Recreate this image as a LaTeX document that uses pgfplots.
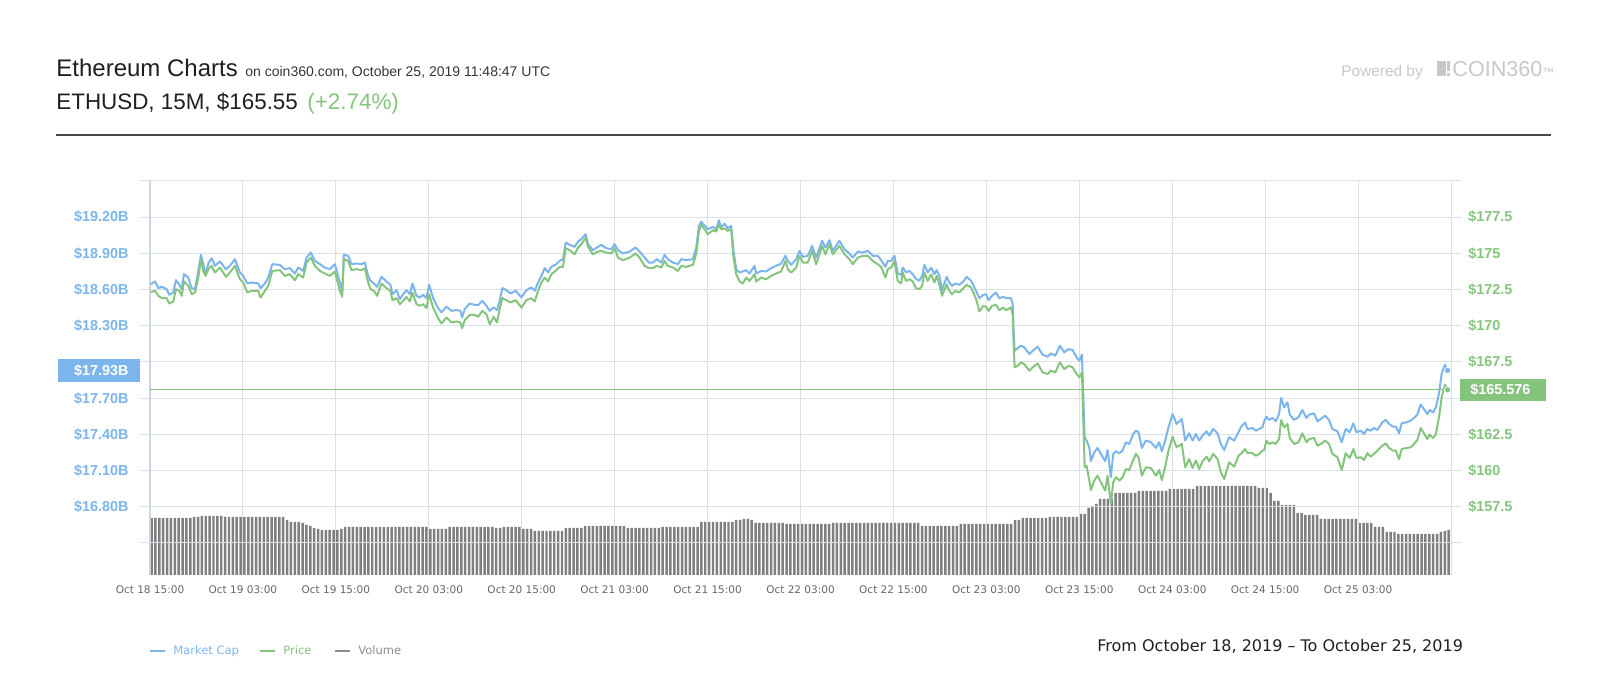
\documentclass[border=0pt]{standalone}
\usepackage{fontspec}
\setmainfont{Liberation Sans}
\newfontfamily\dejavu{DejaVu Sans}
\usepackage{pgfplots}
\usepackage{pgfplotstable}
\pgfplotsset{compat=1.18}
\definecolor{mcblue}{HTML}{7CB5EC}
\definecolor{pgreen}{HTML}{84C47C}
\definecolor{gridc}{HTML}{D8E0E8}
\definecolor{axisc}{HTML}{CCD6E2}
\definecolor{volgray}{HTML}{7F7F7F}
\definecolor{labgray}{HTML}{666666}
\definecolor{titlec}{HTML}{1F1F1F}
\definecolor{rulec}{HTML}{4A4A4A}
\definecolor{poweredc}{HTML}{C8C8C8}

\pgfplotstableread{
h v
0.09 18.645
0.65 18.667
1.08 18.612
1.51 18.623
2.15 18.604
2.49 18.557
3.01 18.576
3.35 18.678
3.79 18.640
4.09 18.604
4.39 18.728
4.95 18.700
5.38 18.612
5.81 18.604
6.24 18.755
6.58 18.888
6.88 18.811
7.18 18.728
7.53 18.816
7.96 18.860
8.39 18.797
9.03 18.833
9.81 18.769
10.32 18.797
10.97 18.852
11.61 18.742
12.04 18.714
12.56 18.651
13.12 18.659
13.98 18.651
14.28 18.612
14.84 18.651
15.27 18.700
15.79 18.811
16.77 18.805
17.42 18.769
18.06 18.778
18.71 18.733
19.14 18.783
19.78 18.755
20.22 18.866
20.77 18.907
21.29 18.838
21.94 18.811
22.58 18.783
23.23 18.769
23.87 18.811
24.52 18.659
24.82 18.590
25.03 18.888
25.59 18.880
26.02 18.811
26.67 18.816
27.31 18.811
27.74 18.824
28.17 18.714
28.47 18.673
28.90 18.651
29.33 18.623
29.89 18.706
30.54 18.667
31.05 18.640
31.31 18.562
31.83 18.595
32.26 18.521
32.69 18.562
33.12 18.595
33.55 18.562
33.89 18.651
34.41 18.549
34.84 18.535
35.27 18.557
35.70 18.529
36.04 18.640
36.56 18.529
37.20 18.447
37.63 18.411
38.28 18.458
38.92 18.424
39.57 18.430
40.09 18.424
40.30 18.369
40.64 18.438
41.29 18.485
41.93 18.474
42.36 18.471
42.92 18.507
43.44 18.466
43.87 18.424
44.38 18.452
44.81 18.430
45.16 18.507
45.50 18.612
46.02 18.595
46.54 18.568
47.22 18.590
47.96 18.535
48.60 18.595
49.25 18.618
49.68 18.590
50.11 18.659
50.54 18.714
50.97 18.778
51.40 18.742
51.83 18.789
52.47 18.811
52.90 18.838
53.33 18.852
53.68 18.990
54.19 18.971
54.84 18.954
55.27 18.998
55.70 19.018
56.26 19.059
56.56 18.976
57.20 18.927
57.85 18.954
58.28 18.971
58.92 18.943
59.57 18.935
60.00 18.976
60.43 18.927
61.07 18.899
61.93 18.915
62.71 18.949
63.22 18.915
63.87 18.866
64.43 18.824
64.94 18.824
65.46 18.852
66.02 18.824
66.45 18.888
66.88 18.852
67.53 18.824
68.17 18.811
68.60 18.852
69.25 18.844
70.11 18.852
70.54 18.949
70.88 19.128
71.18 19.164
71.61 19.128
72.04 19.100
72.69 19.120
73.12 19.100
73.46 19.175
73.76 19.114
74.19 19.147
74.62 19.109
75.05 19.128
75.35 18.921
75.70 18.769
76.13 18.742
76.56 18.750
76.99 18.761
77.42 18.733
78.06 18.797
78.28 18.733
78.92 18.755
79.57 18.750
80.21 18.778
80.86 18.797
81.50 18.816
82.06 18.880
82.36 18.838
82.79 18.805
83.44 18.852
83.87 18.921
84.30 18.871
84.94 18.880
85.50 18.962
86.02 18.866
86.79 19.004
87.22 18.949
87.74 19.009
88.17 18.921
89.03 19.004
89.68 18.935
90.32 18.899
90.75 18.866
91.40 18.915
92.04 18.907
92.69 18.921
93.33 18.880
93.98 18.880
94.41 18.844
94.97 18.789
95.27 18.838
95.70 18.838
96.13 18.880
96.56 18.733
96.99 18.722
97.20 18.783
97.63 18.742
98.06 18.755
98.49 18.728
98.92 18.687
99.35 18.673
99.70 18.714
100.00 18.805
100.43 18.742
100.86 18.783
101.29 18.728
101.59 18.761
101.93 18.714
102.28 18.595
102.58 18.651
102.88 18.706
103.22 18.659
103.57 18.631
104.00 18.651
104.51 18.640
105.03 18.667
105.46 18.706
106.02 18.673
106.45 18.618
106.75 18.576
107.09 18.529
107.61 18.557
107.95 18.562
108.30 18.513
108.73 18.549
109.24 18.576
109.67 18.529
110.19 18.540
110.53 18.529
111.18 18.529
111.40 18.480
111.52 18.259
111.65 18.093
112.04 18.115
112.47 18.135
112.90 18.121
113.55 18.066
113.98 18.093
114.62 18.127
115.27 18.060
115.91 18.044
116.34 18.071
116.90 18.052
117.50 18.135
118.06 18.080
118.62 18.107
119.14 18.099
119.65 18.038
120.00 18.011
120.34 18.060
120.51 17.735
120.69 17.376
120.94 17.349
121.29 17.293
121.50 17.178
121.93 17.252
122.36 17.288
122.79 17.238
123.35 17.178
123.65 17.271
124.08 17.045
124.38 17.238
124.73 17.260
125.16 17.244
125.59 17.266
126.02 17.335
126.45 17.321
126.96 17.404
127.31 17.431
127.65 17.418
128.08 17.288
128.60 17.349
129.24 17.335
129.89 17.288
130.32 17.335
130.66 17.260
131.09 17.349
131.52 17.459
132.04 17.569
132.56 17.487
133.24 17.528
133.67 17.349
134.19 17.409
134.62 17.349
135.05 17.404
135.48 17.349
135.91 17.390
136.43 17.426
136.77 17.390
137.29 17.445
137.85 17.409
138.28 17.321
138.71 17.271
139.35 17.376
140.00 17.349
140.56 17.418
140.86 17.459
141.41 17.500
141.72 17.445
142.36 17.453
142.79 17.431
143.22 17.445
143.65 17.459
143.87 17.509
144.17 17.547
144.51 17.520
144.94 17.536
145.37 17.509
145.80 17.569
146.06 17.702
146.45 17.624
146.88 17.666
147.18 17.564
147.74 17.520
148.30 17.542
148.81 17.602
149.33 17.536
149.67 17.564
150.32 17.575
150.75 17.509
151.18 17.528
151.74 17.555
152.25 17.520
152.68 17.445
153.33 17.426
153.89 17.335
154.40 17.445
154.92 17.418
155.39 17.492
155.78 17.418
156.34 17.431
156.77 17.404
157.20 17.445
157.63 17.431
158.06 17.453
158.49 17.437
159.13 17.500
159.57 17.520
160.00 17.487
160.51 17.464
160.86 17.464
161.29 17.409
161.63 17.492
162.23 17.500
162.79 17.514
163.22 17.536
163.65 17.564
164.08 17.647
164.51 17.611
164.94 17.569
165.24 17.602
165.67 17.583
166.02 17.619
166.45 17.740
166.79 17.900
167.22 17.978
167.56 17.930
}\mcaptable

\pgfplotstableread{
h p
0.09 172.34
0.65 172.41
1.08 172.07
1.51 171.91
2.15 171.91
2.49 171.54
3.01 171.68
3.35 172.53
3.79 172.41
4.09 172.07
4.39 173.06
4.95 172.76
5.38 172.18
5.81 172.30
6.24 173.33
6.58 174.60
6.88 173.79
7.18 173.45
7.53 173.91
7.96 174.14
8.39 173.68
9.03 174.02
9.81 173.38
10.32 173.68
10.97 174.14
11.61 173.22
12.04 172.99
12.56 172.30
13.12 172.41
13.98 172.41
14.28 171.95
14.84 172.41
15.27 172.76
15.79 173.79
16.77 173.84
17.42 173.45
18.06 173.56
18.71 173.15
19.14 173.56
19.78 173.33
20.22 174.37
20.77 174.71
21.29 174.14
21.94 173.79
22.58 173.61
23.23 173.45
23.87 173.75
24.52 172.41
24.82 172.00
25.03 174.60
25.59 174.48
26.02 173.84
26.67 173.91
27.31 173.84
27.74 173.98
28.17 172.99
28.47 172.53
28.90 172.41
29.33 172.07
29.89 172.92
30.54 172.60
31.05 172.41
31.31 171.77
31.83 171.91
32.26 171.49
32.69 171.72
33.12 172.00
33.55 171.68
33.89 172.30
34.41 171.49
34.84 171.38
35.27 171.49
35.70 171.22
36.04 172.18
36.56 171.26
37.20 170.53
37.63 170.16
38.28 170.57
38.92 170.23
39.57 170.30
40.09 170.23
40.30 169.84
40.64 170.39
41.29 170.76
41.93 170.76
42.36 170.62
42.92 171.03
43.44 170.80
43.87 170.11
44.38 170.62
44.81 170.23
45.16 171.15
45.50 171.91
46.02 171.77
46.54 171.61
47.22 171.77
47.96 171.26
48.60 171.77
49.25 171.91
49.68 171.68
50.11 172.41
50.54 172.99
50.97 173.33
51.40 173.06
51.83 173.56
52.47 173.84
52.90 174.07
53.33 174.07
53.68 175.36
54.19 175.22
54.84 174.94
55.27 175.40
55.70 175.63
56.26 176.09
56.56 175.45
57.20 174.94
57.85 175.13
58.28 175.17
58.92 175.06
59.57 174.99
60.00 175.36
60.43 174.71
61.07 174.53
61.93 174.71
62.71 174.99
63.22 174.71
63.87 174.14
64.43 173.98
64.94 173.98
65.46 174.14
66.02 174.02
66.45 174.48
66.88 174.14
67.53 174.02
68.17 173.79
68.60 174.14
69.25 174.07
70.11 174.21
70.54 174.99
70.88 176.55
71.18 176.97
71.61 176.67
72.04 176.32
72.69 176.60
73.12 176.51
73.46 177.01
73.76 176.67
74.19 176.73
74.62 176.55
75.05 176.67
75.35 174.71
75.70 173.56
76.13 173.06
76.56 172.92
76.99 173.33
77.42 173.10
78.06 173.56
78.28 173.06
78.92 173.33
79.57 173.22
80.21 173.45
80.86 173.61
81.50 173.75
82.06 174.48
82.36 173.91
82.79 173.68
83.44 174.02
83.87 174.83
84.30 174.37
84.94 174.37
85.50 175.17
86.02 174.25
86.79 175.52
87.22 174.94
87.74 175.63
88.17 174.94
89.03 175.52
89.68 174.94
90.32 174.60
90.75 174.25
91.40 174.71
92.04 174.83
92.69 174.83
93.33 174.48
93.98 174.25
94.41 174.07
94.97 173.33
95.27 173.91
95.70 174.02
96.13 174.48
96.56 173.10
96.99 172.92
97.20 173.68
97.63 173.10
98.06 173.22
98.49 173.06
98.92 172.60
99.35 172.53
99.70 172.76
100.00 173.68
100.43 173.10
100.86 173.56
101.29 172.99
101.59 173.45
101.93 172.87
102.28 172.07
102.58 172.46
102.88 172.87
103.22 172.41
103.57 172.18
104.00 172.41
104.51 172.30
105.03 172.60
105.46 172.83
106.02 172.64
106.45 172.14
106.75 171.72
107.09 170.99
107.61 171.38
107.95 171.31
108.30 171.03
108.73 171.38
109.24 171.45
109.67 171.08
110.19 171.26
110.53 171.08
111.18 171.26
111.40 170.80
111.52 168.73
111.65 167.13
112.04 167.24
112.47 167.47
112.90 167.35
113.55 166.90
113.98 167.13
114.62 167.40
115.27 166.78
115.91 166.67
116.34 166.90
116.90 166.78
117.50 167.47
118.06 167.01
118.62 167.24
119.14 167.13
119.65 166.67
120.00 166.44
120.34 166.78
120.51 163.68
120.69 160.23
120.94 160.34
121.29 159.31
121.50 158.66
121.93 159.31
122.36 159.65
122.79 159.19
123.35 158.62
123.65 159.65
124.08 157.70
124.38 159.19
124.73 159.54
125.16 159.31
125.59 159.54
126.02 160.11
126.45 160.04
126.96 160.73
127.31 161.15
127.65 160.92
128.08 159.65
128.60 160.23
129.24 160.18
129.89 159.65
130.32 160.04
130.66 159.35
131.09 160.27
131.52 161.38
132.04 162.34
132.56 161.61
133.24 161.84
133.67 160.23
134.19 160.80
134.62 160.18
135.05 160.69
135.48 160.11
135.91 160.64
136.43 160.96
136.77 160.64
137.29 161.15
137.85 160.80
138.28 159.88
138.71 159.42
139.35 160.57
140.00 160.27
140.56 161.03
140.86 161.15
141.41 161.49
141.72 161.20
142.36 161.20
142.79 161.03
143.22 161.15
143.65 161.38
143.87 161.42
144.17 162.07
144.51 161.84
144.94 161.95
145.37 161.84
145.80 162.18
146.06 163.49
146.45 162.99
146.88 163.22
147.18 162.25
147.74 161.84
148.30 161.95
148.81 162.57
149.33 161.95
149.67 162.18
150.32 162.25
150.75 161.72
151.18 161.84
151.74 162.07
152.25 161.84
152.68 161.15
153.33 160.92
153.89 160.04
154.40 161.20
154.92 160.87
155.39 161.49
155.78 160.87
156.34 160.92
156.77 160.73
157.20 161.20
157.63 160.96
158.06 161.15
158.49 161.38
159.13 161.72
159.57 161.88
160.00 161.56
160.51 161.38
160.86 161.38
161.29 160.80
161.63 161.49
162.23 161.56
162.79 161.61
163.22 161.84
163.65 162.11
164.08 162.94
164.51 162.57
164.94 162.18
165.24 162.48
165.67 162.25
166.02 162.48
166.45 163.68
166.79 165.06
167.22 165.93
167.56 165.58
}\pricetable

% Volume: one bar per 30 minutes (relative heights)
\pgfplotstableread[row sep=\\]{vol\\
57\\57\\57\\57\\57\\57\\57\\57\\57\\57\\57\\58\\58\\59\\59\\59\\59\\59\\59\\
58\\58\\58\\58\\58\\58\\58\\58\\58\\58\\58\\58\\58\\58\\58\\58\\
55\\53\\53\\53\\52\\50\\49\\47\\46\\45\\45\\45\\45\\45\\46\\
48\\48\\48\\48\\48\\48\\48\\48\\48\\48\\48\\48\\48\\48\\48\\48\\48\\48\\48\\48\\48\\48\\
46\\46\\46\\46\\46\\48\\48\\48\\48\\48\\48\\48\\48\\48\\48\\48\\48\\47\\47\\
48\\48\\48\\48\\48\\46\\46\\46\\44\\44\\44\\44\\44\\44\\44\\44\\
47\\47\\47\\47\\47\\49\\49\\49\\49\\49\\49\\49\\49\\49\\49\\49\\
47\\47\\47\\47\\47\\47\\47\\47\\47\\48\\48\\48\\48\\48\\48\\48\\48\\48\\48\\
53\\53\\53\\53\\53\\53\\53\\53\\53\\55\\55\\56\\56\\55\\
52\\52\\52\\52\\52\\52\\52\\52\\51\\51\\51\\51\\51\\51\\51\\51\\51\\51\\51\\51\\
52\\52\\52\\52\\52\\52\\52\\52\\52\\52\\52\\52\\52\\52\\52\\52\\52\\52\\52\\52\\52\\52\\52\\
49\\49\\49\\49\\49\\49\\49\\49\\49\\49\\
51\\51\\51\\51\\51\\51\\51\\51\\51\\51\\51\\51\\51\\51\\55\\55\\
57\\57\\57\\57\\57\\57\\57\\58\\58\\58\\58\\58\\58\\58\\58\\61\\61\\67\\69\\71\\
76\\76\\76\\76\\82\\82\\82\\82\\82\\82\\84\\84\\84\\84\\84\\84\\84\\84\\
86\\86\\86\\86\\86\\86\\86\\
89\\89\\89\\89\\89\\89\\89\\89\\89\\89\\89\\89\\89\\89\\89\\89\\
87\\87\\87\\82\\74\\74\\70\\70\\70\\70\\62\\62\\60\\60\\60\\60\\
56\\56\\56\\56\\56\\56\\56\\56\\56\\56\\52\\52\\52\\52\\48\\48\\48\\43\\43\\43\\
41\\41\\41\\41\\41\\41\\41\\41\\41\\41\\41\\43\\44\\45\\
}\voltable

\pgfplotsset{
  base/.style={width=650.5pt, height=197pt, scale only axis,
    at={(75pt,62.5pt)}, anchor=south west, xmin=0, xmax=168, clip mode=individual},
}

\begin{document}
\begin{tikzpicture}
\path[use as bounding box] (0,0) rectangle (800pt,350pt);

% ---------- header ----------
\node[anchor=base west, inner sep=0pt, text=titlec, font=\fontsize{12}{14}\selectfont] at (28pt,311.65pt) {Ethereum Charts};
\node[anchor=base west, inner sep=0pt, text=titlec!90, font=\fontsize{7}{8}\selectfont] at (122.5pt,311.65pt) {on coin360.com, October 25, 2019 11:48:47 UTC};
\node[anchor=base west, inner sep=0pt, text=titlec, font=\fontsize{11.2}{13}\selectfont] at (28pt,295.35pt) {ETHUSD, 15M, \$165.55};
\node[anchor=base west, inner sep=0pt, text=pgreen, font=\fontsize{11.2}{13}\selectfont] at (153.5pt,295.35pt) {(+2.74\%)};
\draw[rulec, line width=1pt] (28pt,282.5pt) -- (775.5pt,282.5pt);
\node[anchor=base west, inner sep=0pt, text=poweredc, font=\fontsize{7.7}{9}\selectfont] at (670.5pt,311.65pt) {Powered by};
\fill[poweredc] (718.3pt,312pt) rectangle (722.8pt,319.6pt);
\fill[poweredc] (723.6pt,314.6pt) rectangle (725.2pt,319.6pt);
\fill[poweredc] (723.6pt,312pt) rectangle (725.2pt,313.6pt);
\node[anchor=base west, inner sep=0pt, text=poweredc, font=\fontsize{10.8}{12}\selectfont] at (726pt,311.65pt) {COIN360\raisebox{0.2pt}{\fontsize{6}{7}\selectfont ™}};

% ---------- volume ----------
\begin{axis}[base, ymin=0, ymax=394, hide axis]
\addplot[ybar, bar width=0.32, fill=volgray, draw=none]
  table[x expr=\coordindex*0.5+0.2, y=vol]{\voltable};
\end{axis}

% ---------- market cap (left axis, grid) ----------
\begin{axis}[base, ymin=16.2348, ymax=19.5,
  axis line style={draw=none},
  xtick={0,12,...,168},
  xticklabels={Oct 18 15:00,Oct 19 03:00,Oct 19 15:00,Oct 20 03:00,Oct 20 15:00,Oct 21 03:00,Oct 21 15:00,Oct 22 03:00,Oct 22 15:00,Oct 23 03:00,Oct 23 15:00,Oct 24 03:00,Oct 24 15:00,Oct 25 03:00,{}},
  xmajorgrids, ymajorgrids, grid style={gridc, line width=0.5pt},
  xtick style={draw=none}, xtick align=inside,
  ytick={16.5,16.8,17.1,17.4,17.7,18.0,18.3,18.6,18.9,19.2,19.5},
  yticklabels={,\$16.80B,\$17.10B,\$17.40B,\$17.70B,,\$18.30B,\$18.60B,\$18.90B,\$19.20B,},
  ytick pos=left, ytick align=outside, major tick length=5pt,
  ytick style={gridc, line width=0.5pt},
  yticklabel style={font=\bfseries\fontsize{7.2}{8}\selectfont, text=mcblue, anchor=east, inner sep=0pt, xshift=-5.5pt},
  xticklabel style={font=\dejavu\fontsize{5.25}{6}\selectfont, text=labgray, anchor=base, inner sep=0pt, yshift=-9.5pt},
]
\draw[axisc, line width=1pt] (rel axis cs:0,0) -- (rel axis cs:0,1);
\addplot[mcblue, line width=1pt, line join=round] table[x=h, y=v]{\mcaptable};
\addplot[only marks, mark=*, mark size=1.6pt, mcblue, mark options={draw=white, line width=0.4pt}] coordinates {(167.56,17.93)};
\node[fill=mcblue, text=white, anchor=east, inner xsep=0pt, inner ysep=0pt, minimum height=11.5pt,
  text width=41pt, align=right, font=\bfseries\fontsize{7.2}{8}\selectfont, xshift=-5pt]
  at (axis cs:0,17.93) {\$17.93B\hspace*{5.5pt}};
\end{axis}

% ---------- price (right axis) ----------
\begin{axis}[base, ymin=152.79, ymax=180,
  axis line style={draw=none}, xtick=\empty,
  ytick={155,157.5,160,162.5,165,167.5,170,172.5,175,177.5,180},
  yticklabels={,\$157.5,\$160,\$162.5,,\$167.5,\$170,\$172.5,\$175,\$177.5,},
  ytick pos=right, yticklabel pos=right, ytick align=outside, major tick length=5pt,
  ytick style={gridc, line width=0.5pt},
  yticklabel style={font=\bfseries\fontsize{7.2}{8}\selectfont, text=pgreen, anchor=west, inner sep=0pt, xshift=3.5pt},
]
\addplot[pgreen, line width=0.5pt] coordinates {(0,165.576) (168,165.576)};
\addplot[pgreen, line width=1pt, line join=round] table[x=h, y=p]{\pricetable};
\addplot[only marks, mark=*, mark size=1.6pt, pgreen, mark options={draw=white, line width=0.4pt}] coordinates {(167.56,165.576)};
\node[fill=pgreen, text=white, anchor=west, inner xsep=0pt, inner ysep=0pt, minimum height=11pt,
  text width=43pt, align=left, font=\bfseries\fontsize{7.2}{8}\selectfont, xshift=4.5pt]
  at (axis cs:168,165.576) {\hspace*{5pt}\$165.576};
\end{axis}

% ---------- legend ----------
\draw[mcblue, line width=1pt] (75pt,24.65pt) -- (82.5pt,24.65pt);
\node[anchor=base west, inner sep=0pt, text=mcblue, font=\dejavu\fontsize{5.75}{7}\selectfont] at (86.5pt,22.5pt) {Market Cap};
\draw[pgreen, line width=1pt] (130pt,24.65pt) -- (137.5pt,24.65pt);
\node[anchor=base west, inner sep=0pt, text=pgreen, font=\dejavu\fontsize{5.75}{7}\selectfont] at (141.5pt,22.5pt) {Price};
\draw[volgray!90, line width=1pt] (167.5pt,24.65pt) -- (175pt,24.65pt);
\node[anchor=base west, inner sep=0pt, text=volgray!90, font=\dejavu\fontsize{5.75}{7}\selectfont] at (179pt,22.5pt) {Volume};

\node[anchor=base west, inner sep=0pt, text=titlec, font=\dejavu\fontsize{8}{9}\selectfont] at (548.5pt,24pt) {From October 18, 2019 – To October 25, 2019};
\end{tikzpicture}
\end{document}
